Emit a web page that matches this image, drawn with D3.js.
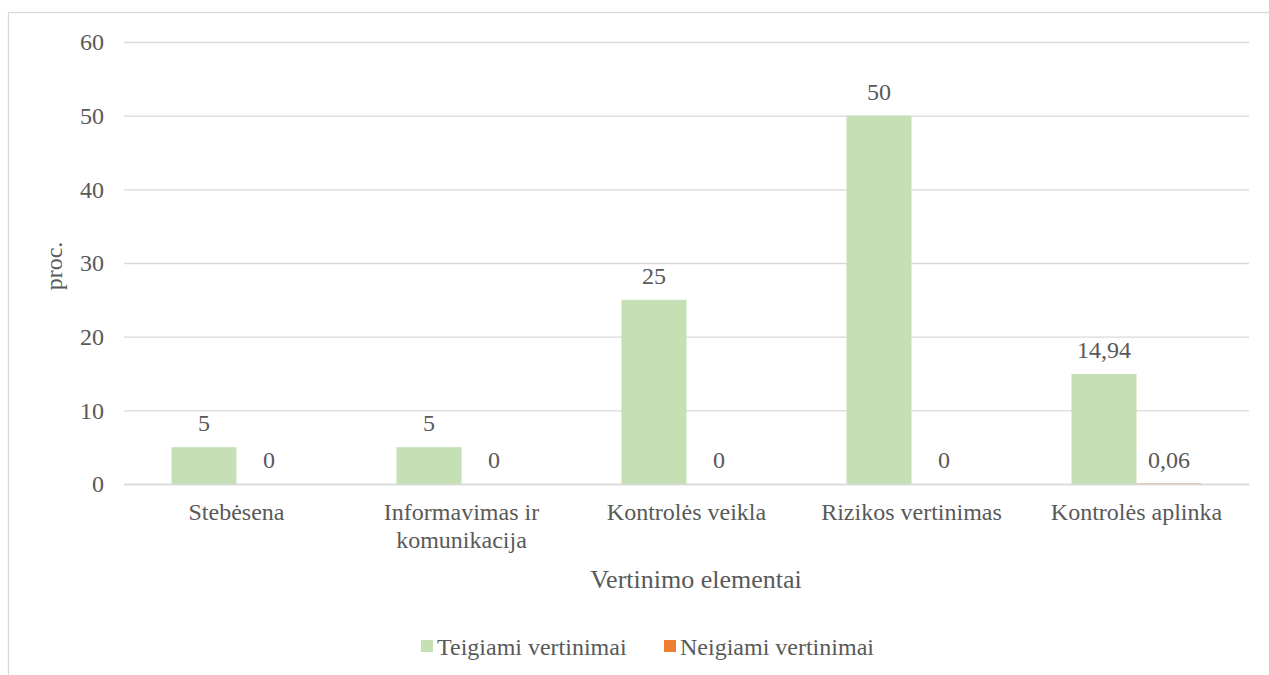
<!DOCTYPE html>
<html><head><meta charset="utf-8">
<script src="https://cdn.jsdelivr.net/npm/d3@7"></script>
<style>body{margin:0;background:#fff}svg{display:block}</style>
</head><body><svg id="c" width="1269" height="675"></svg>
<script>
const categories = [["Stebėsena"], ["Informavimas ir", "komunikacija"], ["Kontrolės veikla"], ["Rizikos vertinimas"], ["Kontrolės aplinka"]];
const seriesNames = ["Teigiami vertinimai", "Neigiami vertinimai"];
const positive = [5, 5, 25, 50, 14.94];
const negative = [0, 0, 0, 0, 0.06];
const yTicks = [0, 10, 20, 30, 40, 50, 60];
const colors = ["#C5E0B4", "#ED7D31"];

(function(){
const FONT = '"Liberation Serif"';
const TXT = "#595959";
const svg = d3.select("#c");
svg.append("rect").attr("x", 8.5).attr("y", 12.5).attr("width", 1280).attr("height", 700)
  .attr("fill", "none").attr("stroke", "#D9D9D9").attr("stroke-width", 1.3);

const pl = 124, pr = 1249, pt = 42, pb = 484;
const x = d3.scaleBand().domain(d3.range(categories.length)).range([pl, pr]).paddingInner(0.422).paddingOuter(0.211);
const y = d3.scaleLinear().domain([0, 60]).range([pb, pt]);
const xs = d3.scaleBand().domain([0, 1]).range([0, x.bandwidth()]);

const grid = svg.append("g").attr("transform", `translate(${pl},0)`)
  .call(d3.axisLeft(y).tickValues(yTicks).tickSize(-(pr - pl)).tickPadding(20).tickFormat(d3.format("d")));
grid.select(".domain").remove();
grid.selectAll(".tick line").attr("stroke", "#D9D9D9").attr("stroke-width", 1.3);
grid.selectAll(".tick text").attr("font-size", 24).attr("fill", TXT);

const data = [positive, negative];
data.forEach((vals, s) => {
  const g = svg.append("g");
  g.selectAll("rect").data(vals).join("rect")
    .attr("x", (d, i) => x(i) + xs(s))
    .attr("y", d => y(d))
    .attr("width", xs.bandwidth())
    .attr("height", d => y(0) - y(d))
    .attr("fill", colors[s]);
  g.selectAll("text").data(vals).join("text")
    .attr("x", (d, i) => x(i) + xs(s) + xs.bandwidth() / 2)
    .attr("y", d => y(d) - 16)
    .attr("text-anchor", "middle").attr("font-size", 24).attr("fill", TXT)
    .text(d => String(d).replace(".", ","));
});

const xa = svg.append("g").attr("transform", `translate(0,${pb})`)
  .call(d3.axisBottom(x).tickSize(0).tickFormat(""));
xa.select(".domain").attr("stroke", "#D9D9D9").attr("stroke-width", 1.3);
xa.selectAll(".tick").each(function(d) {
  const t = d3.select(this).append("text").attr("text-anchor", "middle").attr("font-size", 24).attr("fill", TXT);
  categories[d].forEach((line, k) => {
    t.append("tspan").attr("x", 0).attr("y", 36 + k * 28).text(line);
  });
});

svg.append("text").attr("x", 696).attr("y", 588).attr("text-anchor", "middle")
  .attr("font-size", 26).attr("fill", TXT).text("Vertinimo elementai");
svg.append("text").attr("transform", "translate(62,266) rotate(-90)").attr("text-anchor", "middle")
  .attr("font-size", 24).attr("fill", TXT).text("proc.");

const legX = [421, 664];
seriesNames.forEach((n, i) => {
  svg.append("rect").attr("x", legX[i]).attr("y", 640).attr("width", 12).attr("height", 12).attr("fill", colors[i]);
  svg.append("text").attr("x", legX[i] + 16).attr("y", 655).attr("font-size", 24).attr("fill", TXT).text(n);
});

svg.selectAll("g").attr("font-family", null);
svg.selectAll("text").style("font-family", FONT);
})();
</script></body></html>
